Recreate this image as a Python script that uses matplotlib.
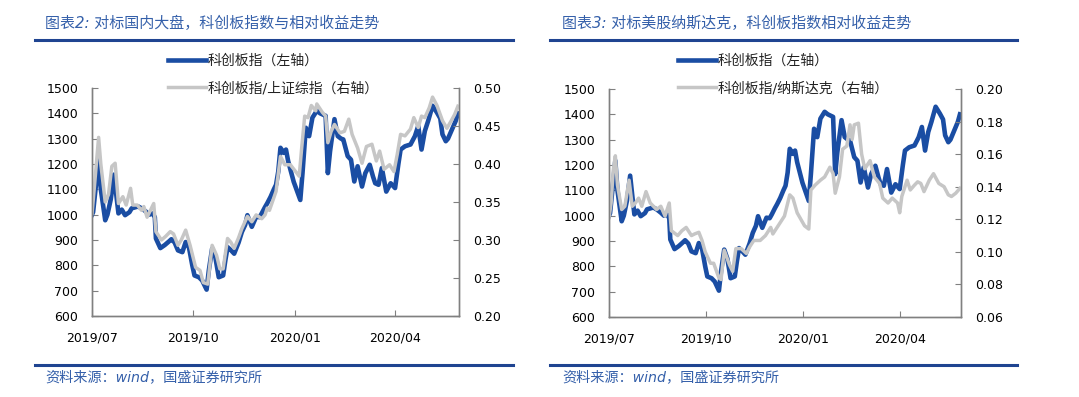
import pandas as pd
import matplotlib.pyplot as plt
import matplotlib.dates as mdates
from matplotlib.lines import Line2D
from matplotlib.ticker import FormatStrFormatter

# ============================================================================
# DADOS
# ============================================================================
# 科创板指 (eixo esquerdo, ambos os painéis)
star_dates = [
    '2019-07-22', '2019-07-23', '2019-07-28', '2019-07-30', '2019-08-03', '2019-08-05',
    '2019-08-08', '2019-08-11', '2019-08-13', '2019-08-15', '2019-08-18', '2019-08-21',
    '2019-08-25', '2019-08-27', '2019-08-31', '2019-09-02', '2019-09-05', '2019-09-09',
    '2019-09-12', '2019-09-15', '2019-09-17', '2019-09-18', '2019-09-22', '2019-09-26',
    '2019-09-30', '2019-10-02', '2019-10-05', '2019-10-08', '2019-10-12', '2019-10-15',
    '2019-10-18', '2019-10-21', '2019-10-23', '2019-10-27', '2019-10-30', '2019-11-03',
    '2019-11-05', '2019-11-08', '2019-11-11', '2019-11-14', '2019-11-18', '2019-11-20',
    '2019-11-22', '2019-11-25', '2019-11-28', '2019-12-02', '2019-12-05', '2019-12-08',
    '2019-12-10', '2019-12-14', '2019-12-18', '2019-12-21', '2019-12-23', '2019-12-26',
    '2019-12-28', '2019-12-31', '2020-01-03', '2020-01-05', '2020-01-07', '2020-01-09',
    '2020-01-12', '2020-01-14', '2020-01-16', '2020-01-21', '2020-01-27', '2020-01-29',
    '2020-02-01', '2020-02-04', '2020-02-07', '2020-02-11', '2020-02-14', '2020-02-16',
    '2020-02-19', '2020-02-21', '2020-02-23', '2020-02-27', '2020-03-01', '2020-03-04',
    '2020-03-06', '2020-03-10', '2020-03-13', '2020-03-16', '2020-03-19', '2020-03-23',
    '2020-03-26', '2020-03-30', '2020-04-02', '2020-04-04', '2020-04-07', '2020-04-10',
    '2020-04-14', '2020-04-18', '2020-04-22', '2020-04-25', '2020-04-27', '2020-05-01',
    '2020-05-06', '2020-05-10', '2020-05-13', '2020-05-16', '2020-05-19', '2020-05-22',
    '2020-05-26', '2020-05-30', '2020-06-02', '2020-06-04', '2020-06-07', '2020-06-09',
    '2020-06-13', '2020-06-16', '2020-06-18']
star_values = [
    1000, 1010, 1217, 1100, 978, 1000,
    1060, 1158, 1080, 1005, 1020, 998,
    1010, 1025, 1030, 1032, 1025, 1012,
    1000, 1005, 990, 906, 868, 880,
    895, 903, 890, 859, 852, 892,
    870, 800, 760, 753, 740, 704,
    780, 866, 830, 753, 760, 820,
    872, 860, 846, 890, 932, 960,
    998, 952, 992, 990, 1005, 1030,
    1045, 1070, 1100, 1118, 1170, 1264,
    1244, 1257, 1211, 1130, 1058, 1164,
    1343, 1310, 1383, 1410, 1400, 1396,
    1390, 1164, 1250, 1377, 1310, 1300,
    1297, 1231, 1217, 1131, 1191, 1111,
    1164, 1197, 1150, 1124, 1118, 1184,
    1091, 1124, 1105, 1200, 1257, 1270,
    1277, 1310, 1350, 1257, 1330, 1370,
    1430, 1403, 1380, 1317, 1290, 1300,
    1340, 1370, 1400]

# 科创板指/上证综指 (eixo direito, painel 1)
sse_dates = [
    '2019-07-22', '2019-07-24', '2019-07-28', '2019-07-30', '2019-08-03', '2019-08-06',
    '2019-08-09', '2019-08-12', '2019-08-15', '2019-08-19', '2019-08-22', '2019-08-26',
    '2019-08-28', '2019-09-01', '2019-09-05', '2019-09-07', '2019-09-10', '2019-09-13',
    '2019-09-16', '2019-09-18', '2019-09-23', '2019-09-27', '2019-10-01', '2019-10-04',
    '2019-10-08', '2019-10-11', '2019-10-15', '2019-10-19', '2019-10-24', '2019-10-28',
    '2019-10-31', '2019-11-04', '2019-11-08', '2019-11-12', '2019-11-15', '2019-11-18',
    '2019-11-22', '2019-11-25', '2019-11-28', '2019-12-02', '2019-12-05', '2019-12-10',
    '2019-12-14', '2019-12-18', '2019-12-23', '2019-12-26', '2019-12-28', '2019-12-30',
    '2020-01-05', '2020-01-09', '2020-01-13', '2020-01-18', '2020-01-26', '2020-01-28',
    '2020-01-31', '2020-02-03', '2020-02-06', '2020-02-10', '2020-02-11', '2020-02-16',
    '2020-02-19', '2020-02-21', '2020-02-24', '2020-02-27', '2020-03-03', '2020-03-07',
    '2020-03-11', '2020-03-14', '2020-03-19', '2020-03-23', '2020-03-27', '2020-04-01',
    '2020-04-05', '2020-04-08', '2020-04-12', '2020-04-17', '2020-04-21', '2020-04-24',
    '2020-04-27', '2020-05-01', '2020-05-06', '2020-05-09', '2020-05-13', '2020-05-16',
    '2020-05-19', '2020-05-23', '2020-05-26', '2020-05-30', '2020-06-04', '2020-06-08',
    '2020-06-12', '2020-06-15', '2020-06-18']
sse_values = [
    0.335, 0.367, 0.435, 0.400, 0.350, 0.360,
    0.397, 0.401, 0.348, 0.357, 0.346, 0.368,
    0.346, 0.346, 0.339, 0.344, 0.330, 0.339,
    0.348, 0.311, 0.300, 0.305, 0.311, 0.308,
    0.293, 0.300, 0.313, 0.293, 0.264, 0.260,
    0.244, 0.242, 0.293, 0.280, 0.262, 0.262,
    0.302, 0.297, 0.289, 0.303, 0.315, 0.331,
    0.324, 0.333, 0.328, 0.333, 0.342, 0.339,
    0.364, 0.410, 0.399, 0.399, 0.384, 0.417,
    0.463, 0.461, 0.477, 0.470, 0.479, 0.468,
    0.463, 0.428, 0.443, 0.452, 0.441, 0.443,
    0.459, 0.439, 0.421, 0.401, 0.423, 0.426,
    0.404, 0.417, 0.393, 0.399, 0.390, 0.413,
    0.439, 0.437, 0.446, 0.461, 0.448, 0.463,
    0.461, 0.474, 0.488, 0.477, 0.457, 0.447,
    0.457, 0.465, 0.476]

# 科创板指/纳斯达克 (eixo direito, painel 2)
ndx_dates = [
    '2019-07-22', '2019-07-24', '2019-07-26', '2019-07-28', '2019-07-30', '2019-08-03',
    '2019-08-06', '2019-08-10', '2019-08-13', '2019-08-16', '2019-08-19', '2019-08-22',
    '2019-08-26', '2019-08-30', '2019-09-02', '2019-09-05', '2019-09-09', '2019-09-13',
    '2019-09-17', '2019-09-19', '2019-09-25', '2019-09-29', '2019-10-03', '2019-10-08',
    '2019-10-11', '2019-10-15', '2019-10-18', '2019-10-21', '2019-10-26', '2019-10-29',
    '2019-11-03', '2019-11-05', '2019-11-08', '2019-11-13', '2019-11-16', '2019-11-19',
    '2019-11-24', '2019-11-29', '2019-12-02', '2019-12-06', '2019-12-12', '2019-12-17',
    '2019-12-22', '2019-12-24', '2019-12-29', '2020-01-04', '2020-01-09', '2020-01-12',
    '2020-01-16', '2020-01-23', '2020-01-27', '2020-01-29', '2020-02-02', '2020-02-07',
    '2020-02-11', '2020-02-16', '2020-02-19', '2020-02-21', '2020-02-25', '2020-02-28',
    '2020-03-03', '2020-03-06', '2020-03-08', '2020-03-10', '2020-03-14', '2020-03-17',
    '2020-03-20', '2020-03-25', '2020-03-29', '2020-04-03', '2020-04-06', '2020-04-11',
    '2020-04-15', '2020-04-20', '2020-04-22', '2020-04-24', '2020-04-29', '2020-05-02',
    '2020-05-06', '2020-05-09', '2020-05-12', '2020-05-15', '2020-05-20', '2020-05-24',
    '2020-05-29', '2020-06-03', '2020-06-07', '2020-06-10', '2020-06-14', '2020-06-18']
ndx_values = [
    0.121, 0.130, 0.150, 0.159, 0.141, 0.126,
    0.128, 0.144, 0.128, 0.130, 0.133, 0.128,
    0.137, 0.130, 0.128, 0.126, 0.128, 0.122,
    0.130, 0.113, 0.110, 0.113, 0.115, 0.110,
    0.111, 0.112, 0.107, 0.100, 0.093, 0.093,
    0.084, 0.083, 0.101, 0.092, 0.088, 0.102,
    0.102, 0.099, 0.103, 0.107, 0.107, 0.110,
    0.115, 0.111, 0.116, 0.122, 0.135, 0.133,
    0.124, 0.116, 0.114, 0.138, 0.141, 0.144,
    0.146, 0.152, 0.148, 0.136, 0.146, 0.163,
    0.165, 0.178, 0.169, 0.178, 0.179, 0.160,
    0.151, 0.156, 0.146, 0.142, 0.133, 0.130,
    0.133, 0.130, 0.124, 0.134, 0.144, 0.138,
    0.141, 0.143, 0.142, 0.137, 0.144, 0.148,
    0.142, 0.140, 0.135, 0.134, 0.136, 0.139]

x_ticks = ['2019-07-22', '2019-10-22', '2020-01-22', '2020-04-22']
x_range = ['2019-07-22', '2020-06-19']

titles = ['图表2: 对标国内大盘，科创板指数与相对收益走势',
          '图表3: 对标美股纳斯达克，科创板指数相对收益走势']
legend_blue = '科创板指（左轴）'
legend_gray = ['科创板指/上证综指（右轴）', '科创板指/纳斯达克（右轴）']
source = '资料来源：wind，国盛证券研究所'

# ============================================================================
# ESTILO
# ============================================================================
plt.rcParams['font.family'] = ['DejaVu Sans', 'Noto Sans CJK SC']
BLUE = '#1A4DA3'
GRAY = '#C6C6C6'
AXC = '#808080'
DARK = '#1F4491'
TXT = '#3560AA'
W, H = 1079, 397

fig = plt.figure(figsize=(W / 100, H / 100), dpi=100)


def painel(box, gray_d, gray_v, rlim, rticks, gray_label, title, title_x, rule_x):
    ax = fig.add_axes([box[0] / W, 1 - box[3] / H, (box[1] - box[0]) / W, (box[3] - box[2]) / H])
    axr = ax.twinx()

    l1, = ax.plot(pd.to_datetime(star_dates), star_values, color=BLUE, lw=3.3,
                  solid_joinstyle='round')
    l2, = axr.plot(pd.to_datetime(gray_d), gray_v, color=GRAY, lw=2.5,
                   solid_joinstyle='round')

    ax.set_xlim(pd.to_datetime(x_range))
    ax.set_ylim(600, 1500)
    ax.set_yticks(range(600, 1501, 100))
    axr.set_ylim(*rlim)
    axr.set_yticks(rticks)
    axr.yaxis.set_major_formatter(FormatStrFormatter('%.2f'))
    ax.set_xticks(pd.to_datetime(x_ticks))
    ax.xaxis.set_major_formatter(mdates.DateFormatter('%Y/%m'))

    for a in (ax, axr):
        a.spines['top'].set_visible(False)
        for s in ('left', 'right', 'bottom'):
            a.spines[s].set_color(AXC)
            a.spines[s].set_linewidth(1.0)
        a.tick_params(direction='in', length=4, color=AXC, labelsize=9, pad=10)
    ax.tick_params(axis='x', pad=11)

    leg = axr.legend([l1, l2], [legend_blue, gray_label], loc='upper left',
                     bbox_to_anchor=(box[4] / W, 1 - 54 / H), bbox_transform=fig.transFigure,
                     frameon=False, fontsize=10, handlelength=2.7, handletextpad=0.15,
                     labelspacing=0.95, borderpad=0, borderaxespad=0)
    for t in leg.get_texts():
        t.set_color('#222222')

    # título e linhas de cabeçalho / rodapé
    fig.text(title_x / W, 1 - 23 / H, title, fontsize=10.8, color=TXT, va='center',
             style='italic')
    fig.add_artist(Line2D([rule_x[0] / W, rule_x[1] / W], [1 - 40 / H] * 2,
                          color=DARK, lw=2.2))
    fig.add_artist(Line2D([rule_x[0] / W, rule_x[1] / W], [1 - 365 / H] * 2,
                          color=DARK, lw=2.2))
    fig.text(title_x / W, 1 - 377 / H, source, fontsize=10.2, color=TXT, va='center',
             style='italic')
    return ax, axr


painel((92, 459, 88, 316, 168), sse_dates, sse_values, (0.20, 0.50),
       [0.20, 0.25, 0.30, 0.35, 0.40, 0.45, 0.50], legend_gray[0], titles[0], 45, (35, 513))
painel((609, 961, 89, 317, 678), ndx_dates, ndx_values, (0.06, 0.20),
       [0.06, 0.08, 0.10, 0.12, 0.14, 0.16, 0.18, 0.20], legend_gray[1], titles[1], 562,
       (550, 1017))

fig.savefig('out.png', dpi=100)
